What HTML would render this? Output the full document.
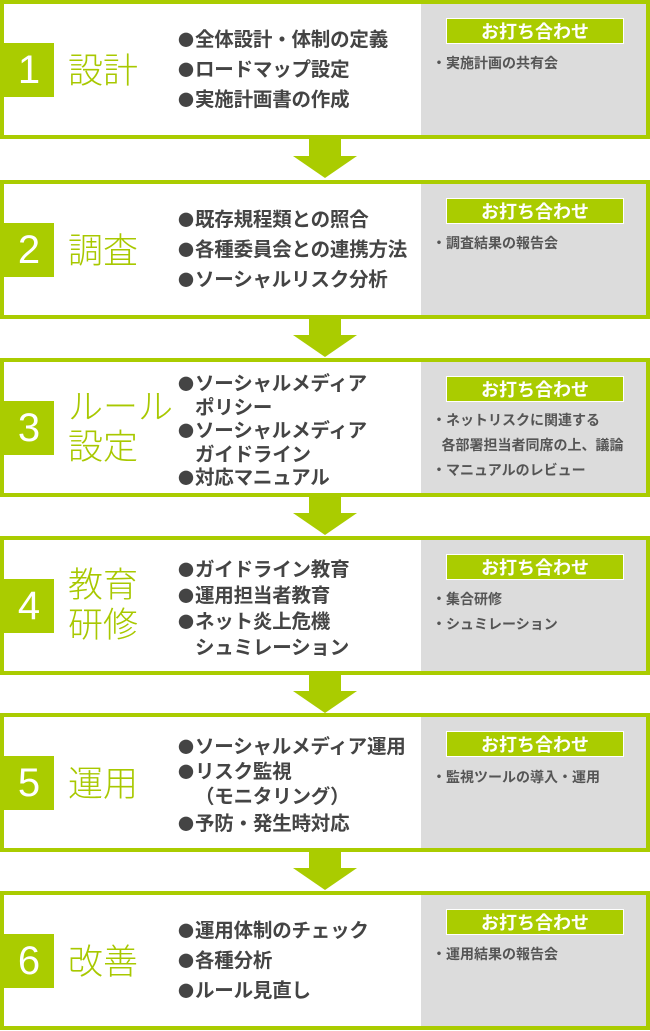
<!DOCTYPE html>
<html><head><meta charset="utf-8"><style>
*{margin:0;padding:0;box-sizing:border-box}
body{width:650px;height:1031px;background:#fff;position:relative;overflow:hidden;font-family:"Liberation Sans","Noto Sans CJK JP",sans-serif}
.box{position:absolute;left:0;width:650px;height:139px;border:4px solid #aacc00;background:#fff}
.gray{position:absolute;left:417px;top:0;right:0;bottom:0;background:#dcdcdc}
.num{position:absolute;left:0;top:39px;width:50px;height:54px;background:#aacc00;color:#fff;font-size:40px;font-weight:300;line-height:54px;text-align:center}
.title{position:absolute;left:64px;color:#a8c800;font-size:35px;font-weight:300;line-height:40px}
.list{position:absolute;left:174px;color:#444;font-size:19.5px;font-weight:bold;white-space:nowrap;font-family:"Noto Sans CJK JP",sans-serif;line-height:24px;letter-spacing:-0.2px}
.list div{position:absolute;left:0;white-space:nowrap}
.list b{font-size:16px;display:inline-block;width:17px}
.lbl{position:absolute;left:442px;top:14px;width:178px;height:26px;background:#aacc00;border:1px solid #fff;color:#fff;font-size:18px;font-weight:bold;text-align:center;line-height:24px;font-family:"Noto Sans CJK JP",sans-serif}
.rt{position:absolute;left:428px;color:#555;font-size:14px;font-weight:bold;white-space:nowrap;font-family:"Noto Sans CJK JP",sans-serif;line-height:18px}
.rt div{position:absolute;left:0;white-space:nowrap}
.arrow{position:absolute;left:293px;width:64px;height:40px}
</style></head><body>

<div class="box" style="top:0">
 <div class="gray"></div>
 <div class="num">1</div>
 <div class="title" style="top:48px">設計</div>
 <div class="list"><div style="top:22px"><b>●</b>全体設計・体制の定義</div><div style="top:52px"><b>●</b>ロードマップ設定</div><div style="top:82px"><b>●</b>実施計画書の作成</div></div>
 <div class="lbl">お打ち合わせ</div>
 <div class="rt"><div style="top:50px">・実施計画の共有会</div></div>
</div>
<svg class="arrow" style="top:139px" viewBox="0 0 64 40"><rect x="16" y="0" width="32" height="17" fill="#aacc00"/><polygon points="0,17 64,17 32,39" fill="#aacc00"/></svg>

<div class="box" style="top:180px">
 <div class="gray"></div>
 <div class="num">2</div>
 <div class="title" style="top:48px">調査</div>
 <div class="list"><div style="top:22px"><b>●</b>既存規程類との照合</div><div style="top:52px"><b>●</b>各種委員会との連携方法</div><div style="top:82px"><b>●</b>ソーシャルリスク分析</div></div>
 <div class="lbl">お打ち合わせ</div>
 <div class="rt"><div style="top:50px">・調査結果の報告会</div></div>
</div>
<svg class="arrow" style="top:318px" viewBox="0 0 64 40"><rect x="16" y="0" width="32" height="17" fill="#aacc00"/><polygon points="0,17 64,17 32,39" fill="#aacc00"/></svg>

<div class="box" style="top:358px">
 <div class="gray"></div>
 <div class="num">3</div>
 <div class="title" style="top:26px">ルール<br>設定</div>
 <div class="list"><div style="top:8px"><b>●</b>ソーシャルメディア</div><div style="top:32px"><b></b>ポリシー</div><div style="top:55px"><b>●</b>ソーシャルメディア</div><div style="top:79px"><b></b>ガイドライン</div><div style="top:102px"><b>●</b>対応マニュアル</div></div>
 <div class="lbl">お打ち合わせ</div>
 <div class="rt"><div style="top:49px">・ネットリスクに関連する</div><div style="top:74px">&nbsp;&nbsp;&nbsp;各部署担当者同席の上、議論</div><div style="top:99px">・マニュアルのレビュー</div></div>
</div>
<svg class="arrow" style="top:496px" viewBox="0 0 64 40"><rect x="16" y="0" width="32" height="17" fill="#aacc00"/><polygon points="0,17 64,17 32,39" fill="#aacc00"/></svg>

<div class="box" style="top:536px">
 <div class="gray"></div>
 <div class="num">4</div>
 <div class="title" style="top:26px">教育<br>研修</div>
 <div class="list"><div style="top:16px"><b>●</b>ガイドライン教育</div><div style="top:42px"><b>●</b>運用担当者教育</div><div style="top:68px"><b>●</b>ネット炎上危機</div><div style="top:94px"><b></b>シュミレーション</div></div>
 <div class="lbl">お打ち合わせ</div>
 <div class="rt"><div style="top:50px">・集合研修</div><div style="top:75px">・シュミレーション</div></div>
</div>
<svg class="arrow" style="top:674px" viewBox="0 0 64 40"><rect x="16" y="0" width="32" height="17" fill="#aacc00"/><polygon points="0,17 64,17 32,39" fill="#aacc00"/></svg>

<div class="box" style="top:713px">
 <div class="gray"></div>
 <div class="num">5</div>
 <div class="title" style="top:48px">運用</div>
 <div class="list"><div style="top:16px"><b>●</b>ソーシャルメディア運用</div><div style="top:41px"><b>●</b>リスク監視</div><div style="top:66px"><b></b>（モニタリング）</div><div style="top:93px"><b>●</b>予防・発生時対応</div></div>
 <div class="lbl">お打ち合わせ</div>
 <div class="rt"><div style="top:51px">・監視ツールの導入・運用</div></div>
</div>
<svg class="arrow" style="top:851px" viewBox="0 0 64 40"><rect x="16" y="0" width="32" height="17" fill="#aacc00"/><polygon points="0,17 64,17 32,39" fill="#aacc00"/></svg>

<div class="box" style="top:891px">
 <div class="gray"></div>
 <div class="num">6</div>
 <div class="title" style="top:48px">改善</div>
 <div class="list"><div style="top:22px"><b>●</b>運用体制のチェック</div><div style="top:52px"><b>●</b>各種分析</div><div style="top:82px"><b>●</b>ルール見直し</div></div>
 <div class="lbl">お打ち合わせ</div>
 <div class="rt"><div style="top:50px">・運用結果の報告会</div></div>
</div>

</body></html>
